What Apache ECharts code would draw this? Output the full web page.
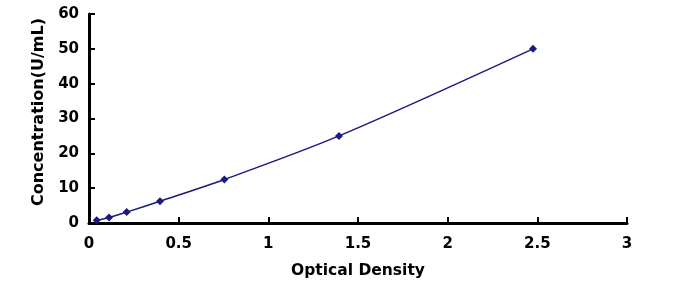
<!DOCTYPE html>
<html><head><meta charset="utf-8">
<script src="https://cdn.jsdelivr.net/npm/echarts@6/dist/echarts.min.js"></script>
<style>html,body{margin:0;padding:0;background:#fff}#c{width:698px;height:294px}</style>
</head><body><div id="c"></div>
<script>
var od = [0.043, 0.112, 0.21, 0.396, 0.755, 1.394, 2.476];
var conc = [0.78, 1.56, 3.125, 6.25, 12.5, 25, 50];
var xTicks = [0, 0.5, 1, 1.5, 2, 2.5, 3];
var yTicks = [0, 10, 20, 30, 40, 50, 60];

var data = od.map(function (x, i) { return [x, conc[i]]; });
var font = 'DejaVu Sans, Verdana, sans-serif';
var chart = echarts.init(document.getElementById('c'));
chart.setOption({
  animation: false,
  grid: { left: 89, right: 71, top: 14, bottom: 71 },
  xAxis: {
    type: 'value', min: 0, max: 3, interval: 0.5,
    name: 'Optical Density', nameLocation: 'middle', nameGap: 40,
    nameTextStyle: { fontFamily: font, fontWeight: 'bold', fontSize: 15.5, color: '#000' },
    axisLine: { lineStyle: { color: '#000', width: 3 } },
    axisTick: { inside: true, length: 6, lineStyle: { color: '#000', width: 2 } },
    axisLabel: { fontFamily: font, fontWeight: 'bold', fontSize: 15, color: '#000', margin: 14,
      formatter: function (v) { return String(v); } },
    splitLine: { show: false }
  },
  yAxis: {
    type: 'value', min: 0, max: 60, interval: 10,
    name: 'Concentration(U/mL)', nameLocation: 'middle', nameGap: 42, nameRotate: 90,
    nameTextStyle: { fontFamily: font, fontWeight: 'bold', fontSize: 16, color: '#000', padding: [0, 0, 0, 13] },
    axisLine: { show: true, lineStyle: { color: '#000', width: 3 } },
    axisTick: { show: true, inside: true, length: 6, lineStyle: { color: '#000', width: 2 } },
    axisLabel: { fontFamily: font, fontWeight: 'bold', fontSize: 15, color: '#000', margin: 10 },
    splitLine: { show: false }
  },
  series: [{
    type: 'line', data: data, smooth: 0.3,
    symbol: 'diamond', symbolSize: 8,
    lineStyle: { color: '#1a1a80', width: 1.5 },
    itemStyle: { color: '#1a1a80' }
  }]
});
</script></body></html>
